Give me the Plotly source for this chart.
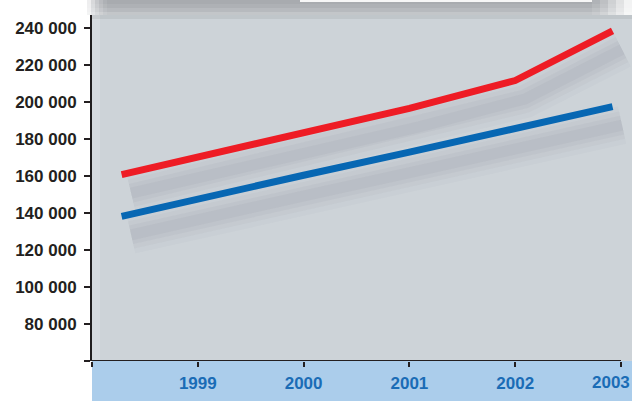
import plotly.graph_objects as go

# Series values (x in decimal years)
red_x = [1998.28, 1999, 2000, 2001, 2002, 2002.92]
red_y = [160700, 170100, 183300, 196600, 211600, 238400]
blue_x = [1998.28, 1999, 2000, 2001, 2002, 2002.92]
blue_y = [138200, 147800, 160400, 172900, 185600, 197500]

# Axis ticks and labels
year_ticks = [1998, 1999, 2000, 2001, 2002, 2003]
year_labels = ["", "1999", "2000", "2001", "2002", "2003"]
value_ticks = [60000, 80000, 100000, 120000, 140000, 160000, 180000, 200000, 220000, 240000]
value_labels = ["" if v == 60000 else f"{v:,}".replace(",", " ") for v in value_ticks]

RED = "#ee1c25"
BLUE = "#0767b3"
INK = "#231f20"
LABEL_BLUE = "#1a6cb6"
FONT = "Liberation Sans, Arial, sans-serif"

X_MIN, X_MAX = 1998, 2003.104
Y_MIN, Y_MAX = 60000, 247027

fig = go.Figure()

# Soft drop shadows under both lines
SH_DX, SH_DY = 0.09, -10000
for xs, ys in ((blue_x, blue_y), (red_x, red_y)):
    sx = [x + SH_DX for x in xs]
    sy = [y + SH_DY for y in ys]
    for w, a in ((38, 0.03), (28, 0.04), (19, 0.05), (11, 0.06)):
        fig.add_trace(go.Scatter(
            x=sx, y=sy, mode="lines",
            line=dict(color=f"rgba(100,106,112,{a})", width=w),
            hoverinfo="skip", showlegend=False,
        ))

fig.add_trace(go.Scatter(x=blue_x, y=blue_y, mode="lines",
                         line=dict(color=BLUE, width=7), showlegend=False))
fig.add_trace(go.Scatter(x=red_x, y=red_y, mode="lines",
                         line=dict(color=RED, width=7), showlegend=False))

PH = 346  # plot height in px
PW = 540  # plot width in px
shapes = []
# light band under the plot holding the year labels
shapes.append(dict(type="rect", xref="paper", yref="paper",
                   x0=0, x1=1, y0=-40 / PH, y1=0,
                   fillcolor="#abcdeb", line_width=0, layer="below"))
# shadow strip above the plot area
strip = [("#a8abaf", 0, 4), ("#aeb1b5", 4, 8), ("#b7babe", 8, 12), ("#c3c6c9", 12, 15)]
for col, t0, t1 in strip:
    shapes.append(dict(type="rect", xref="paper", yref="paper",
                       x0=-5 / PW, x1=1,
                       y0=1 + (15 - t1) / PH, y1=1 + (15 - t0) / PH,
                       fillcolor=col, line_width=0, layer="below"))
# fade at the strip's left end
for i, a in enumerate((0.8, 0.55, 0.35, 0.2, 0.08)):
    shapes.append(dict(type="rect", xref="paper", yref="paper",
                       x0=(-5 + i * 4) / PW, x1=(-1 + i * 4) / PW,
                       y0=1, y1=1 + 15 / PH,
                       fillcolor=f"rgba(255,255,255,{a})", line_width=0, layer="below"))
# fade at the strip's right end
for i, a in enumerate((0.1, 0.25, 0.45, 0.65, 0.85)):
    shapes.append(dict(type="rect", xref="paper", yref="paper",
                       x0=(500 + i * 8) / PW, x1=(508 + i * 8) / PW,
                       y0=1, y1=1 + 15 / PH,
                       fillcolor=f"rgba(255,255,255,{a})", line_width=0, layer="below"))
# white box edge at the very top
shapes.append(dict(type="rect", xref="paper", yref="paper",
                   x0=208 / PW, x1=500 / PW, y0=1 + 13 / PH, y1=1 + 15 / PH,
                   fillcolor="#f6f6f6", line_width=0, layer="below"))
# lighter left edge and darker top of the plot area
shapes.append(dict(type="rect", xref="paper", yref="paper",
                   x0=0, x1=8 / PW, y0=0, y1=1,
                   fillcolor="rgba(255,255,255,0.2)", line_width=0, layer="below"))
shapes.append(dict(type="rect", xref="paper", yref="paper",
                   x0=0, x1=1, y0=1 - 4 / PH, y1=1,
                   fillcolor="rgba(120,125,130,0.15)", line_width=0, layer="below"))
# x axis baseline, ending at the last year tick
shapes.append(dict(type="line", xref="x", yref="y",
                   x0=year_ticks[0], x1=year_ticks[-1], y0=Y_MIN, y1=Y_MIN,
                   line=dict(color=INK, width=2), layer="above"))

year_font = dict(family=FONT, size=17, color=LABEL_BLUE, weight="bold")

# the last year sits at the right edge, so it is set flush right
annotations = [dict(xref="paper", yref="paper", x=1, y=-22 / PH,
                    xanchor="right", yanchor="middle", showarrow=False,
                    text=year_labels[-1], font=year_font)]

fig.update_layout(
    width=632, height=401,
    margin=dict(l=92, r=0, t=15, b=40, autoexpand=False),
    paper_bgcolor="white",
    plot_bgcolor="#cdd3d8",
    shapes=shapes,
    annotations=annotations,
    showlegend=False,
    xaxis=dict(
        range=[X_MIN, X_MAX], showgrid=False, zeroline=False, showline=False,
        automargin=False,
        tickmode="array", tickvals=year_ticks,
        ticktext=year_labels[:-1] + [""],
        ticks="outside", ticklen=5, tickwidth=2, tickcolor=INK,
        ticklabelstandoff=2,
        tickfont=year_font,
    ),
    yaxis=dict(
        range=[Y_MIN, Y_MAX], showgrid=False, zeroline=False,
        automargin=False,
        showline=True, linecolor=INK, linewidth=2,
        tickmode="array", tickvals=value_ticks, ticktext=value_labels,
        ticks="outside", ticklen=6, tickwidth=2, tickcolor=INK,
        ticklabelstandoff=4,
        tickfont=dict(family=FONT, size=17, color=INK, weight="bold"),
    ),
)

fig.write_html("out.html")
